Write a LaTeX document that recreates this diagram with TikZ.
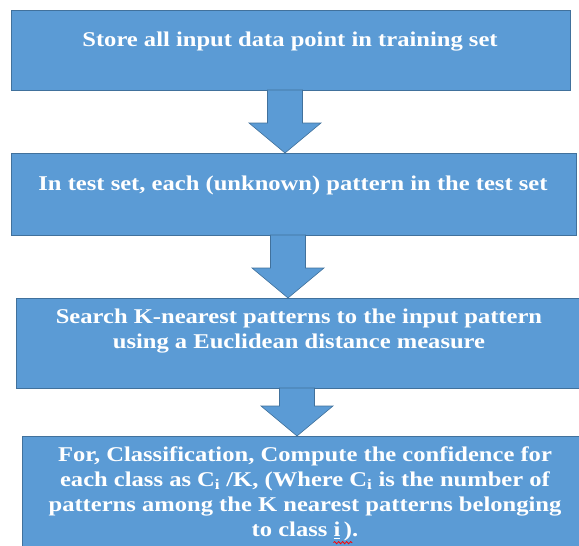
\documentclass[tikz,border=0pt]{standalone}
\usepackage{fontspec}
\setmainfont[FakeStretch=1.17]{Liberation Serif}
\usetikzlibrary{calc,decorations.pathmorphing}
\definecolor{boxfill}{HTML}{5B9BD5}
\definecolor{boxline}{HTML}{41719C}
\tikzset{
  box/.style={draw=boxline, line width=1pt, fill=boxfill, inner sep=0pt, outer sep=0pt},
  lbl/.style={text=white, font=\bfseries\fontsize{21}{25}\selectfont, align=center, inner sep=0pt},
  blk/.style={draw=boxline, line width=0.6pt, fill=boxfill, line join=miter},
  squig/.style={draw=red, line width=0.8pt, decorate, decoration={snake, amplitude=1.1pt, segment length=4pt}},
}
\newcommand{\blockarrow}[3]{%
  \draw[blk] let \p1=(#2.south), \p2=(#3.north) in
    ({#1pt-17.5pt},\y1) -- ({#1pt+17.5pt},\y1) -- ({#1pt+17.5pt},{\y2+30pt})
    -- ({#1pt+36pt},{\y2+30pt}) -- ({#1pt},\y2) -- ({#1pt-36pt},{\y2+30pt})
    -- ({#1pt-17.5pt},{\y2+30pt}) -- cycle;}
\newcommand{\spellmark}{\rlap{\tikz[overlay,x=1pt,y=1pt]\path[squig] (-7pt,-6pt) -- (12pt,-6pt);}}
\begin{document}
\begin{tikzpicture}[x=1pt,y=-1pt]
\useasboundingbox (0,0) rectangle (579,546);
% boxes
\node[box, minimum width=559pt, minimum height=80pt] (b1) at (290.5,50) {};
\node[box, minimum width=565pt, minimum height=82pt] (b2) at (293.5,194) {};
\node[box, minimum width=566pt, minimum height=90pt] (b3) at (299,343) {};
\node[box, minimum width=566pt, minimum height=130pt] (b4) at (305,501) {};
% texts
\node[lbl] (t1) at (290,42) {Store all input data point in training set};
\node[lbl] (t2) at (293,185) {In test set, each (unknown) pattern in the test set};
\node[lbl] (t3) at (299,331) {Search K-nearest patterns to the input pattern\\using a Euclidean distance measure};
\node[lbl] (t4) at (305,494) {For, Classification, Compute the confidence for\\each class as C\textsubscript{i} /K, (Where C\textsubscript{i} is the number of\\patterns among the K nearest patterns belonging\\to class \underline{i}\spellmark\,).};
% arrows
\blockarrow{285}{b1}{b2}
\blockarrow{288}{b2}{b3}
\blockarrow{297}{b3}{b4}
\end{tikzpicture}
\end{document}
